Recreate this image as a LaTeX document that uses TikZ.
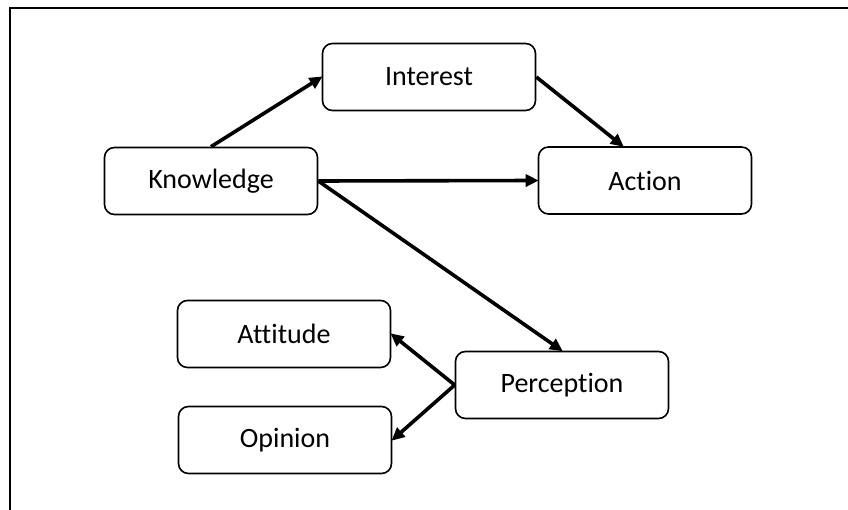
\documentclass[tikz,border=0pt]{standalone}
\usepackage{fontspec}
\setmainfont[Ligatures=NoCommon]{Carlito}
\usetikzlibrary{arrows.meta}
\begin{document}
\begin{tikzpicture}[x=1pt,y=-1pt,
  box/.style={draw, line width=1.6pt, rounded corners=10pt, minimum width=213pt, minimum height=67pt, inner sep=0pt, font=\fontsize{28}{32}\selectfont},
  arr/.style={line width=3.6pt, -{Triangle[length=13pt,width=12pt]}, shorten >=-1pt}]
\useasboundingbox (0,0) rectangle (848,510);
\draw[line width=2.6pt] (10,510) -- (10,8) -- (848,8);
\node[box] (i) at (429,77) {Interest};
\node[box] (k) at (211,181) {Knowledge};
\node[box] (a) at (645,180.5) {Action};
\node[box] (t) at (284,334) {Attitude};
\node[box] (o) at (285,440) {Opinion};
\node[box] (p) at (562,385) {Perception};
\draw[arr] (k.north) -- (i.west);
\draw[arr] (i.east) -- ([xshift=-22pt]a.north);
\draw[arr] (k.east) -- (a.west);
\draw[arr] (k.east) -- (p.north);
\draw[arr] (p.west) -- (t.east);
\draw[arr] (p.west) -- (o.east);
\end{tikzpicture}
\end{document}
